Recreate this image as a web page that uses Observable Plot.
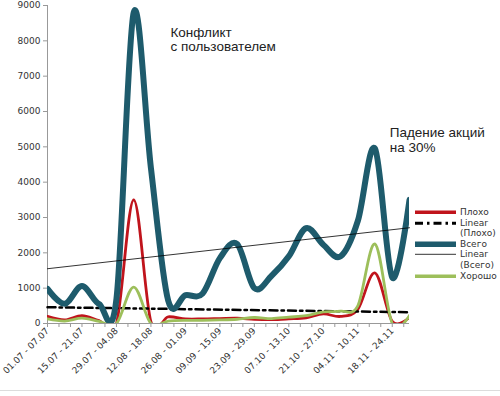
<!DOCTYPE html>
<html><head><meta charset="utf-8">
<script src="https://cdn.jsdelivr.net/npm/d3@7"></script>
<script src="https://cdn.jsdelivr.net/npm/@observablehq/plot@0.6"></script>
<style>
html,body{margin:0;padding:0;background:#fff;}
#wrap{position:relative;width:500px;height:396px;overflow:hidden;background:#fff;}
#legend{position:absolute;left:415px;top:207px;font-family:"DejaVu Sans";font-size:9px;color:#333;line-height:10.6px;}
.item{display:flex;align-items:flex-start;}
.item svg{flex:none;margin-right:4px;}
#frame{position:absolute;left:0;top:390px;width:500px;height:1px;background:#dcdcdc;}
</style></head><body><div id="wrap"><div id="frame"></div></div>
<script>
// Category tick labels (every second week is labelled)
const tickLabels = ["01.07 - 07.07","15.07 - 21.07","29.07 - 04.08","12.08 - 18.08","26.08 - 01.09","09.09 - 15.09","23.09 - 29.09","07.10 - 13.10","21.10 - 27.10","04.11 - 10.11","18.11 - 24.11"];
// Weekly series
const plokho   = [200,100,220,80,0,3500,50,190,130,130,140,150,120,110,130,160,270,200,400,1430,60,180];
const vsego    = [980,560,1060,550,700,8800,4400,650,800,850,1850,2250,1000,1350,1900,2700,2230,1900,2900,4950,1300,3500];
const khorosho = [130,70,150,60,0,1030,0,70,90,90,100,120,170,140,180,220,330,350,500,2250,0,230];
// Linear trend lines (start value, end value)
const trendPlokho = [460,320];
const trendVsego  = [1550,2710];
// y ticks
const yTicks = [0,1000,2000,3000,4000,5000,6000,7000,8000,9000];
// Annotations
const noteTexts = ["Конфликт\nс пользователем","Падение акций\nна 30%"];
const noteWeeks = [7.13,19.85];
const noteValues = [8400,5560];
// Legend
const legendNames = ["Плохо","Linear\n(Плохо)","Всего","Linear\n(Всего)","Хорошо"];

const n = vsego.length;
const colRed = "#c0141c", colTeal = "#1e5b6c", colGreen = "#9dbf5b";
const xTicks = d3.range(32).map(k => k*2/3);
const fmtX = d => { const h = d/2, r = Math.round(h); return Math.abs(h-r) < 1e-6 && r < tickLabels.length ? tickLabels[r] : ""; };
const trendX = (d,i) => i === 0 ? 0 : n-1;
const notes = noteTexts.map((t,i) => ({t, x: noteWeeks[i], y: noteValues[i]}));
const smooth = {curve: "cardinal", tension: 0, clip: true};

const chart = Plot.plot({
  width: 500, height: 396,
  marginLeft: 47, marginRight: 91, marginTop: 5, marginBottom: 73,
  x: {domain: [0, n-1]},
  y: {domain: [0, 9000]},
  style: {fontFamily: "DejaVu Sans", fontSize: "9px", color: "#333", background: "#fff", overflow: "visible"},
  marks: [
    Plot.axisY({ticks: yTicks, tickFormat: d3.format("d"), tickSize: 4, tickPadding: 3, label: null, stroke: "#999", fontSize: 9}),
    Plot.axisX({ticks: xTicks, tickFormat: fmtX, tickRotate: -45, tickSize: 4, tickPadding: 2, label: null, stroke: "#999", fontSize: 9}),
    Plot.ruleX([0], {stroke: "#999"}),
    Plot.ruleY([0], {stroke: "#999"}),
    Plot.line(plokho, {x: (d,i) => i, y: d => d, ...smooth, stroke: colRed, strokeWidth: 2.8}),
    Plot.line(trendPlokho, {x: trendX, y: d => d, stroke: "#000", strokeWidth: 2.5, strokeDasharray: "8,4,2.5,4"}),
    Plot.line(vsego, {x: (d,i) => i, y: d => d, ...smooth, stroke: colTeal, strokeWidth: 6}),
    Plot.line(trendVsego, {x: trendX, y: d => d, stroke: "#000", strokeWidth: 0.8}),
    Plot.line(khorosho, {x: (d,i) => i, y: d => d, ...smooth, stroke: colGreen, strokeWidth: 2.8}),
    Plot.text(notes, {x: "x", y: "y", text: "t", textAnchor: "start", lineAnchor: "top", fontSize: 13.5, lineHeight: 1.06, fontFamily: "Liberation Sans, Arial", fill: "#222"})
  ]
});
const wrap = document.getElementById("wrap");
wrap.insertBefore(chart, wrap.firstChild);

// Legend
const swatches = [
  {stroke: colRed, w: 3.5, dash: null},
  {stroke: "#000", w: 3, dash: "8,4,2.5,4"},
  {stroke: colTeal, w: 5.5, dash: null},
  {stroke: "#000", w: 0.8, dash: null},
  {stroke: colGreen, w: 3.5, dash: null}
];
const leg = document.createElement("div");
leg.id = "legend";
legendNames.forEach((name, i) => {
  const s = swatches[i];
  const row = document.createElement("div");
  row.className = "item";
  row.innerHTML = `<svg width="41" height="10.6"><line x1="0" x2="41" y1="5.3" y2="5.3" stroke="${s.stroke}" stroke-width="${s.w}" ${s.dash ? `stroke-dasharray="${s.dash}"` : ""}/></svg>`;
  const lab = document.createElement("div");
  lab.style.whiteSpace = "pre";
  lab.textContent = name;
  row.appendChild(lab);
  leg.appendChild(row);
});
wrap.appendChild(leg);
</script>
</body></html>
